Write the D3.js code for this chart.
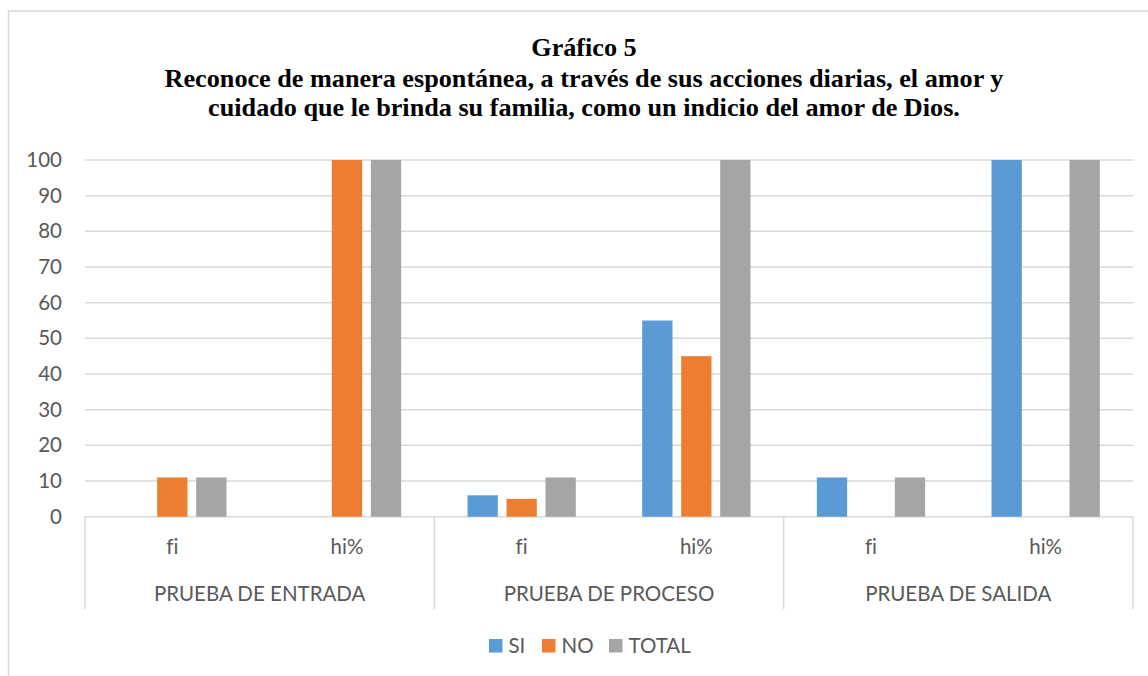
<!DOCTYPE html>
<html>
<head>
<meta charset="utf-8">
<script src="https://cdn.jsdelivr.net/npm/d3@7"></script>
<style>
  html, body { margin: 0; padding: 0; background: #fff; }
  svg { display: block; }
  svg text { font-variant-ligatures: none; }
</style>
</head>
<body>
<svg id="chart" width="1148" height="676"></svg>
<script>
// Chart data
const titleLines = [
  "Gráfico 5",
  "Reconoce de manera espontánea, a través de sus acciones diarias, el amor y",
  "cuidado que le brinda su familia, como un indicio del amor de Dios."
];
const groups = ["PRUEBA DE ENTRADA", "PRUEBA DE PROCESO", "PRUEBA DE SALIDA"];
const subcats = ["fi", "hi%"];
const seriesNames = ["SI", "NO", "TOTAL"];
const seriesColors = ["#5B9BD5", "#ED7D31", "#A5A5A5"];
const yTicks = [0, 10, 20, 30, 40, 50, 60, 70, 80, 90, 100];

// values per group, per sub-category: [SI, NO, TOTAL]
const entradaValues = { "fi": [0, 11, 11], "hi%": [0, 100, 100] };
const procesoValues = { "fi": [6, 5, 11], "hi%": [55, 45, 100] };
const salidaValues  = { "fi": [11, 0, 11], "hi%": [100, 0, 100] };
const groupValues = [entradaValues, procesoValues, salidaValues];

const svg = d3.select("#chart");
const gridColor = "#D9D9D9";
const textColor = "#595959";
const sansFont = "Lato, 'Open Sans', sans-serif";

// outer chart frame
svg.append("rect")
  .attr("x", 8.5).attr("y", 11)
  .attr("width", 1160).attr("height", 700)
  .attr("fill", "#fff")
  .attr("stroke", gridColor).attr("stroke-width", 1.5);

// title
const titleY = [56, 86.5, 115.5];
svg.append("g").selectAll("text")
  .data(titleLines)
  .join("text")
  .attr("x", 584)
  .attr("y", (d, i) => titleY[i])
  .attr("text-anchor", "middle")
  .attr("font-family", "'Liberation Serif', 'Times New Roman', serif")
  .attr("font-weight", "bold")
  .attr("font-size", 26.2)
  .attr("fill", "#000")
  .text(d => d);

// scales
const plotLeft = 85, plotRight = 1133, plotTop = 160, plotBottom = 516.7;
const y = d3.scaleLinear().domain([0, 100]).range([plotBottom, plotTop]);
const x0 = d3.scaleBand().domain(groups).range([plotLeft, plotRight]).padding(0);
const x1 = d3.scaleBand().domain(subcats).range([0, x0.bandwidth()]).padding(0);
const x2 = d3.scaleBand().domain(seriesNames).range([0, x1.bandwidth()])
  .paddingInner(0.223).paddingOuter(0.851);

// gridlines
svg.append("g").selectAll("line")
  .data(yTicks)
  .join("line")
  .attr("x1", plotLeft).attr("x2", plotRight)
  .attr("y1", d => y(d)).attr("y2", d => y(d))
  .attr("stroke", gridColor).attr("stroke-width", 1.5);

// y axis labels
const yAxis = d3.axisLeft(y).tickValues(yTicks).tickSize(0).tickPadding(0);
const yG = svg.append("g").attr("transform", "translate(62,0)").call(yAxis);
yG.select(".domain").remove();
yG.selectAll("text")
  .attr("font-family", sansFont)
  .attr("font-size", 20.5)
  .attr("fill", textColor);

// bars
const bars = [];
groups.forEach((g, gi) => {
  subcats.forEach(s => {
    groupValues[gi][s].forEach((v, si) => {
      bars.push({ group: g, sub: s, series: seriesNames[si], value: v, color: seriesColors[si] });
    });
  });
});
svg.append("g").selectAll("rect")
  .data(bars.filter(d => d.value > 0))
  .join("rect")
  .attr("x", d => x0(d.group) + x1(d.sub) + x2(d.series))
  .attr("y", d => y(d.value))
  .attr("width", x2.bandwidth())
  .attr("height", d => y(0) - y(d.value))
  .attr("fill", d => d.color);

// multi-level category axis
const axisBottom = 609;
const sepX = groups.map(g => x0(g)).concat([plotRight]);
svg.append("g").selectAll("line")
  .data(sepX)
  .join("line")
  .attr("x1", d => d).attr("x2", d => d)
  .attr("y1", plotBottom).attr("y2", axisBottom)
  .attr("stroke", gridColor).attr("stroke-width", 1.5);

const subLabels = [];
groups.forEach(g => subcats.forEach(s => subLabels.push({ g, s })));
svg.append("g").selectAll("text")
  .data(subLabels)
  .join("text")
  .attr("x", d => x0(d.g) + x1(d.s) + x1.bandwidth() / 2)
  .attr("y", 554)
  .attr("text-anchor", "middle")
  .attr("font-family", sansFont)
  .attr("font-size", 20.5)
  .attr("fill", textColor)
  .text(d => d.s);

svg.append("g").selectAll("text")
  .data(groups)
  .join("text")
  .attr("x", d => x0(d) + x0.bandwidth() / 2)
  .attr("y", 601)
  .attr("text-anchor", "middle")
  .attr("font-family", sansFont)
  .attr("font-size", 20.5)
  .attr("fill", textColor)
  .text(d => d);

// legend
const legendX = [489, 542, 609];
const legend = svg.append("g").selectAll("g")
  .data(seriesNames)
  .join("g")
  .attr("transform", (d, i) => `translate(${legendX[i]},639)`);
legend.append("rect")
  .attr("width", 13.5).attr("height", 13.5)
  .attr("fill", (d, i) => seriesColors[i]);
legend.append("text")
  .attr("x", 19.5).attr("y", 13.5)
  .attr("font-family", sansFont)
  .attr("font-size", 20.5)
  .attr("fill", textColor)
  .text(d => d);
</script>
</body>
</html>
